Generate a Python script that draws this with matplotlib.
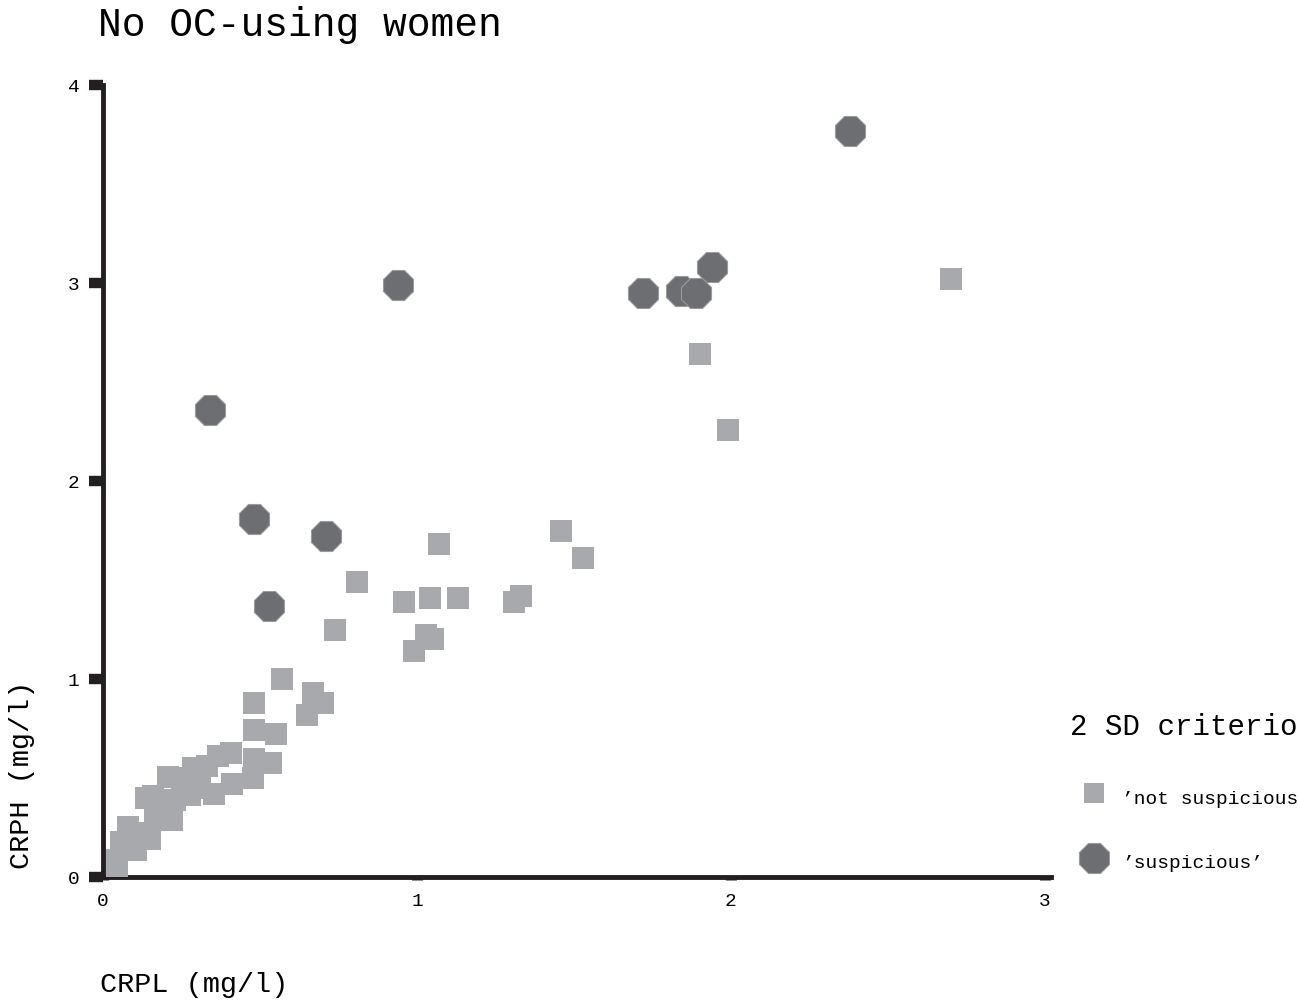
import matplotlib
matplotlib.use("Agg")
import matplotlib.pyplot as plt
from matplotlib.lines import Line2D

plt.rcParams['font.family'] = ['Liberation Mono', 'DejaVu Sans Mono']

# 'suspicious' (octagons)
susp_x = [2.38, 1.94, 1.84, 1.89, 1.72, 0.94, 0.34, 0.48, 0.71, 0.53]
susp_y = [3.77, 3.08, 2.96, 2.95, 2.95, 2.99, 2.36, 1.81, 1.72, 1.37]

# 'not suspicious' (squares)
ns_x = [2.70, 1.90, 1.99, 1.46, 1.53, 1.07, 0.81, 0.96, 1.04, 1.13, 1.31, 1.33,
        0.74, 0.99, 1.03, 1.05, 0.57, 0.48, 0.67, 0.70, 0.65, 0.48, 0.55,
        0.366, 0.408, 0.481, 0.535, 0.411, 0.478, 0.354, 0.287, 0.207, 0.261,
        0.159, 0.137, 0.229, 0.277, 0.166, 0.220, 0.080, 0.150, 0.057, 0.105,
        0.045, 0.045, 0.31, 0.33, 0.25, 0.19, 0.12]
ns_y = [3.02, 2.64, 2.26, 1.75, 1.61, 1.68, 1.49, 1.39, 1.41, 1.41, 1.39, 1.42,
        1.25, 1.14, 1.22, 1.20, 1.00, 0.88, 0.93, 0.88, 0.82, 0.74, 0.72,
        0.611, 0.626, 0.596, 0.576, 0.470, 0.500, 0.419, 0.551, 0.505, 0.500,
        0.409, 0.399, 0.389, 0.414, 0.288, 0.288, 0.253, 0.192, 0.177, 0.136,
        0.086, 0.056, 0.45, 0.56, 0.46, 0.35, 0.22]

x_ticks = [0, 1, 2, 3]
y_ticks = [0, 1, 2, 3, 4]

W, H = 1298, 1001
fig = plt.figure(figsize=(W / 100, H / 100), dpi=100)
ax = fig.add_axes([103 / W, 1 - 877 / H, (1045 - 103) / W, (877 - 85) / H])

sq_col = '#A7A9AC'
oc_col = '#6D6E71'
ax.plot(ns_x, ns_y, 's', color=sq_col, markersize=16, markeredgewidth=0,
        linestyle='none', clip_on=False, zorder=3)
ax.plot(susp_x, susp_y, '8', color=oc_col, markersize=23, markeredgewidth=0.8,
        markeredgecolor='#9A9B9E', linestyle='none', clip_on=False, zorder=4)

ax.set_xlim(0, 3)
ax.set_ylim(0, 4)
ax.set_xticks(x_ticks)
ax.set_yticks(y_ticks)
ax.set_xticklabels([str(v) for v in x_ticks])
ax.set_yticklabels([str(v) for v in y_ticks])

for s in ['top', 'right']:
    ax.spines[s].set_visible(False)
for s in ['left', 'bottom']:
    ax.spines[s].set_linewidth(3.5)
    ax.spines[s].set_color('#231F20')
ax.spines['bottom'].set_bounds(0, 3.02)

ax.tick_params(axis='y', direction='out', length=10, width=7.5, color='#231F20',
               labelsize=14, pad=7)
ax.tick_params(axis='x', direction='out', length=2.5, width=8, color='#231F20',
               labelsize=14, pad=9)

fig.text(98 / W, 1 - 25 / H, 'No OC-using women', fontsize=28.5, ha='left', va='center')
fig.text(22 / W, 1 - 775 / H, 'CRPH (mg/l)', fontsize=20.5, rotation=90,
         ha='center', va='center')
fig.text(100 / W, 1 - 985 / H, 'CRPL (mg/l)', fontsize=20.5, ha='left', va='center')

# legend (drawn manually)
fig.text(1070 / W, 1 - 727 / H, '2 SD criterion', fontsize=21, ha='left', va='center')
fig.add_artist(Line2D([1094 / W], [1 - 793 / H], marker='s', markersize=14,
                      color=sq_col, markeredgewidth=0, linestyle='none',
                      transform=fig.transFigure))
fig.add_artist(Line2D([1094 / W], [1 - 858 / H], marker='8', markersize=23,
                      color=oc_col, markeredgewidth=0.8, markeredgecolor='#9A9B9E',
                      linestyle='none', transform=fig.transFigure))
fig.text(1122 / W, 1 - 800 / H, '\u2019not suspicious\u2019', fontsize=14,
         ha='left', va='center')
fig.text(1122 / W, 1 - 863 / H, '\u2019suspicious\u2019', fontsize=14,
         ha='left', va='center')

fig.savefig('out.png', dpi=100)
